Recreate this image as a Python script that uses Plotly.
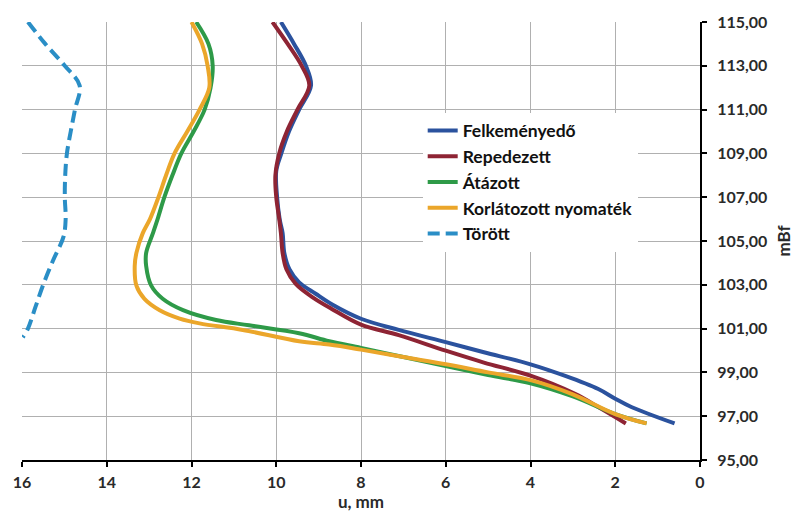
import plotly.graph_objects as go

# ---- data (u in mm, level in mBf) ----
felk_v = [115, 114, 113, 112.1, 111, 110, 109, 108.2, 107, 106, 105.36, 104.46, 103.71, 103.11, 102.59, 102.1, 101.45, 100.94, 100.38, 99.92, 99.37, 98.84, 98.24, 97.8, 97.42, 96.67]
felk_u = [9.89, 9.58, 9.30, 9.18, 9.46, 9.70, 9.88, 10.0, 9.98, 9.92, 9.85, 9.81, 9.69, 9.46, 9.07, 8.68, 8.0, 7.11, 6.0, 5.1, 4.0, 3.18, 2.40, 2.0, 1.62, 0.60]

rep_v = [115, 114, 113, 112.1, 111, 110, 109, 108, 107, 106, 105.36, 104.46, 103.71, 103.04, 102.44, 101.91, 101.18, 100.7, 99.99, 99.45, 98.85, 98.02, 97.42, 96.67]
rep_u = [10.09, 9.73, 9.40, 9.22, 9.50, 9.75, 9.93, 10.02, 10.0, 9.93, 9.89, 9.85, 9.76, 9.54, 9.15, 8.70, 8.0, 7.11, 6.0, 5.1, 4.0, 2.95, 2.40, 1.75]

ataz_v = [115, 114, 113, 112, 111, 110, 109, 108, 107, 106, 105.36, 104.46, 103.86, 102.96, 102.36, 101.84, 101.39, 101.15, 100.79, 100.42, 100.12, 99.7, 99.29, 98.88, 98.5, 97.9, 97.1, 96.67]
ataz_u = [11.89, 11.6, 11.5, 11.55, 11.69, 11.95, 12.24, 12.45, 12.64, 12.8, 12.91, 13.07, 13.07, 12.95, 12.68, 12.2, 11.42, 10.64, 9.46, 8.75, 8.0, 7.0, 6.0, 5.0, 4.0, 3.0, 2.0, 1.26]

korl_v = [115, 114, 113, 112, 111, 110, 109, 108, 107, 106, 105.36, 104.46, 103.86, 102.96, 102.36, 101.84, 101.46, 101.24, 100.94, 100.42, 100.27, 100.04, 99.7, 99.37, 99.0, 98.65, 98.0, 97.1, 96.67]
korl_u = [12.0, 11.75, 11.62, 11.58, 11.81, 12.1, 12.4, 12.6, 12.78, 12.98, 13.15, 13.3, 13.34, 13.30, 13.11, 12.75, 12.28, 11.81, 10.79, 9.46, 8.75, 8.0, 7.0, 6.0, 5.0, 4.0, 3.0, 2.0, 1.26]

tor_v = [115, 114, 113, 112.1, 111, 110, 109, 108, 107, 106, 105.2, 104.1, 103, 102, 101, 100.6]
tor_u = [15.86, 15.45, 14.99, 14.64, 14.75, 14.85, 14.94, 14.98, 14.99, 14.97, 15.02, 15.27, 15.5, 15.68, 15.86, 15.98]

series_names = ["Felkeményedő", "Repedezett", "Átázott", "Korlátozott nyomaték", "Törött"]
colors = ["#2B529E", "#8E2434", "#2E9A48", "#EBA62A", "#2A8EC6"]

x_ticks = [0, 2, 4, 6, 8, 10, 12, 14, 16]
y_ticks = [95, 97, 99, 101, 103, 105, 107, 109, 111, 113, 115]
y_ticktext = ["95,00", "97,00", "99,00", "101,00", "103,00", "105,00", "107,00", "109,00", "111,00", "113,00", "115,00"]

data = [(felk_u, felk_v), (rep_u, rep_v), (ataz_u, ataz_v), (korl_u, korl_v), (tor_u, tor_v)]

fig = go.Figure()
for i, (name, (u, v)) in enumerate(zip(series_names, data)):
    dash = "12px,6px" if name == "Törött" else "solid"
    fig.add_trace(go.Scatter(
        x=u, y=v, mode="lines", name=name,
        line=dict(color=colors[i], width=4, shape="spline", smoothing=1.0, dash=dash),
    ))

font_family = "Lato, 'Open Sans', sans-serif"
tick_font = dict(family=font_family, size=16, color="#2a2a2a", weight="bold")
title_font = dict(family=font_family, size=17, color="#2a2a2a", weight="bold")

fig.update_layout(
    width=803, height=519,
    margin=dict(l=22, r=100, t=15, b=59),
    paper_bgcolor="white", plot_bgcolor="white",
    font=dict(family=font_family, size=16, color="#2a2a2a"),
    legend=dict(
        x=0.591, y=0.793, xanchor="left", yanchor="top",
        bgcolor="white", borderwidth=0,
        font=dict(family=font_family, size=17.5, color="#111111", weight="bold"),
        itemwidth=30, tracegroupgap=0,
    ),
    showlegend=True,
)

fig.update_xaxes(
    range=[16, 0], tickvals=x_ticks, ticktext=[str(t) for t in x_ticks],
    showgrid=True, gridcolor="#b0b0b0", gridwidth=1,
    showline=True, linecolor="black", linewidth=2,
    ticks="outside", ticklen=5, tickcolor="black", tickwidth=2,
    tickfont=tick_font, ticklabelstandoff=2,
    title=dict(text="u, mm", font=title_font, standoff=4),
    zeroline=False,
)
fig.update_yaxes(
    range=[95, 115], side="right", tickvals=y_ticks, ticktext=y_ticktext,
    showgrid=True, gridcolor="#b0b0b0", gridwidth=1,
    showline=True, linecolor="black", linewidth=2,
    ticks="outside", ticklen=5, tickcolor="black", tickwidth=2,
    tickfont=tick_font, ticklabelstandoff=7,
    title=dict(text="mBf", font=title_font, standoff=12),
    zeroline=False,
)

fig.write_html("out.html")
